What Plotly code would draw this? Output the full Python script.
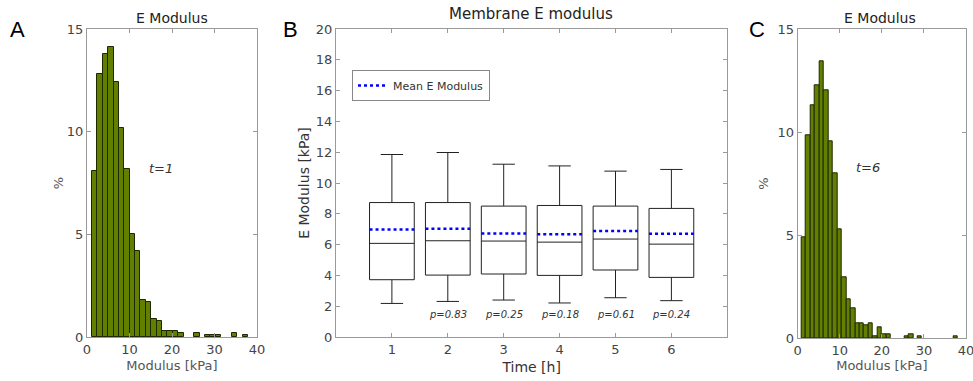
import plotly.graph_objects as go

# ---------------- Data ----------------
# Panel A histogram (t=1): bin start, bin width, percentages per bin
hist_a_start = 1.2
hist_a_width = 1.265
hist_a_pct = [8.1, 12.8, 13.8, 14.1, 12.4, 10.2, 8.2, 5.0, 4.2, 1.8, 1.7, 0.9, 0.8,
              0.3, 0.3, 0.3, 0.2, 0, 0, 0.2, 0, 0.1, 0.1, 0.1, 0, 0, 0.2, 0, 0.1]

# Panel C histogram (t=6)
hist_c_start = 0.95
hist_c_width = 1.06
hist_c_pct = [4.9, 9.85, 11.33, 12.3, 13.46, 12.02, 9.58, 8.01, 5.29, 2.94, 1.86, 1.46,
              0.7, 0.7, 0.6, 0.7, 0.1, 0.5, 0.2, 0.2, 0, 0, 0, 0.1, 0.2, 0, 0.1,
              0, 0, 0, 0, 0, 0, 0, 0.1]

# Panel B box plot
time_h = [1, 2, 3, 4, 5, 6]
box_q1 = [3.72, 4.02, 4.09, 4.00, 4.35, 3.87]
box_median = [6.08, 6.25, 6.23, 6.16, 6.36, 6.03]
box_q3 = [8.73, 8.73, 8.50, 8.54, 8.50, 8.35]
box_low = [2.18, 2.31, 2.40, 2.21, 2.55, 2.36]
box_high = [11.85, 11.98, 11.22, 11.11, 10.77, 10.88]
box_mean = [6.98, 7.03, 6.72, 6.68, 6.88, 6.70]
p_labels = ["", "p=0.83", "p=0.25", "p=0.18", "p=0.61", "p=0.24"]

# ---------------- Styling ----------------
FONT = "DejaVu Sans"
AX_COLOR = "#9a9a9a"
TICK_FONT = dict(family=FONT, size=13, color="#444444")
TITLE_FONT = dict(family=FONT, size=13, color="#555555")
BAR_FILL = "#627f00"
BAR_EDGE = "#1e2800"
BOX_W = 0.8

fig = go.Figure()


def bar_trace(start, width, pct, xa, ya):
    centers = [start + width * (i + 0.5) for i in range(len(pct))]
    vals = [v if v > 0 else None for v in pct]
    return go.Bar(x=centers, y=vals, width=width, xaxis=xa, yaxis=ya,
                  marker=dict(color=BAR_FILL, line=dict(color=BAR_EDGE, width=1)),
                  showlegend=False, hoverinfo="x+y")


fig.add_trace(bar_trace(hist_a_start, hist_a_width, hist_a_pct, "x", "y"))
fig.add_trace(bar_trace(hist_c_start, hist_c_width, hist_c_pct, "x3", "y3"))

# Box plot
fig.add_trace(go.Box(x=time_h, q1=box_q1, median=box_median, q3=box_q3,
                     lowerfence=box_low, upperfence=box_high,
                     width=BOX_W, whiskerwidth=0.5,
                     line=dict(color="#222222", width=1),
                     fillcolor="rgba(0,0,0,0)", boxpoints=False,
                     xaxis="x2", yaxis="y2", showlegend=False))

mx, my = [], []
for t, m in zip(time_h, box_mean):
    mx += [t - BOX_W / 2, t + BOX_W / 2, None]
    my += [m, m, None]
fig.add_trace(go.Scatter(x=mx, y=my, mode="lines", name="Mean E Modulus",
                         line=dict(color="#0000ff", width=2.5, dash="dot"),
                         xaxis="x2", yaxis="y2", showlegend=True))

ax_common = dict(showline=True, linecolor=AX_COLOR, linewidth=1, mirror="ticks",
                 ticks="inside", ticklen=4, tickcolor=AX_COLOR, showgrid=False,
                 zeroline=False, tickfont=TICK_FONT, automargin=False)

ydom_ab = [1 - 337 / 381, 1 - 29 / 381]
ydom_c = [1 - 338 / 381, 1 - 29.3 / 381]

fig.update_layout(
    width=973, height=381,
    margin=dict(l=0, r=0, t=0, b=0),
    paper_bgcolor="white", plot_bgcolor="white",
    bargap=0,
    xaxis=dict(domain=[87 / 973, 257 / 973], range=[0, 40], tickvals=[0, 10, 20, 30, 40],
               anchor="y",
               title=dict(text="Modulus [kPa]", font=TITLE_FONT, standoff=5), **ax_common),
    yaxis=dict(domain=ydom_ab, range=[0, 15], tickvals=[0, 5, 10, 15], anchor="x",
               title=dict(text="%", font=TITLE_FONT, standoff=0), **ax_common),
    xaxis2=dict(domain=[336 / 973, 727.3 / 973], range=[0, 7], tickvals=time_h,
                anchor="y2",
                title=dict(text="Time [h]", font=dict(family=FONT, size=14, color="#333333"),
                           standoff=6), **ax_common),
    yaxis2=dict(domain=ydom_ab, range=[0, 20], tickvals=list(range(0, 21, 2)), anchor="x2",
                title=dict(text="E Modulus [kPa]", font=dict(family=FONT, size=14, color="#333333"),
                           standoff=2), **ax_common),
    xaxis3=dict(domain=[797.7 / 973, 966 / 973], range=[0, 40], tickvals=[0, 10, 20, 30, 40],
                anchor="y3", ticklabeloverflow="allow",
                title=dict(text="Modulus [kPa]", font=TITLE_FONT, standoff=0), **ax_common),
    yaxis3=dict(domain=ydom_c, range=[0, 15], tickvals=[0, 5, 10, 15], anchor="x3",
                title=dict(text="%", font=TITLE_FONT, standoff=5), **ax_common),
    legend=dict(x=352 / 973, y=1 - 70 / 381, xanchor="left", yanchor="top",
                bgcolor="white", bordercolor="#888888", borderwidth=1,
                font=dict(family=FONT, size=11, color="#333333"), itemwidth=30),
)

ann = []
# titles
ann.append(dict(text="E Modulus", x=172 / 973, y=1 - 18 / 381, xref="paper", yref="paper",
                xanchor="center", yanchor="middle",
                showarrow=False, font=dict(family=FONT, size=14, color="#222222")))
ann.append(dict(text="Membrane E modulus", x=531 / 973, y=1 - 14 / 381, xref="paper", yref="paper",
                xanchor="center", yanchor="middle",
                showarrow=False, font=dict(family=FONT, size=15, color="#222222")))
ann.append(dict(text="E Modulus", x=880 / 973, y=1 - 18 / 381, xref="paper", yref="paper",
                xanchor="center", yanchor="middle",
                showarrow=False, font=dict(family=FONT, size=14, color="#222222")))
# panel letters
for letter, px in [("A", 17), ("B", 290), ("C", 757)]:
    ann.append(dict(text=letter, x=px / 973, y=1 - 30 / 381, xref="paper", yref="paper",
                    xanchor="center", yanchor="middle",
                    showarrow=False, font=dict(family="Liberation Sans", size=22, color="black")))
# t labels
ann.append(dict(text="<i>t=1</i>", x=17.3, y=8.2, xref="x", yref="y", showarrow=False,
                font=dict(family=FONT, size=13, color="#333333")))
ann.append(dict(text="<i>t=6</i>", x=16.7, y=8.3, xref="x3", yref="y3", showarrow=False,
                font=dict(family=FONT, size=13, color="#333333")))
# p-values
for t, p in zip(time_h, p_labels):
    if p:
        ann.append(dict(text="<i>" + p + "</i>", x=t, y=1.45, xref="x2", yref="y2",
                        showarrow=False, font=dict(family=FONT, size=10, color="#333333")))
fig.update_layout(annotations=ann)

fig.write_html("out.html")
